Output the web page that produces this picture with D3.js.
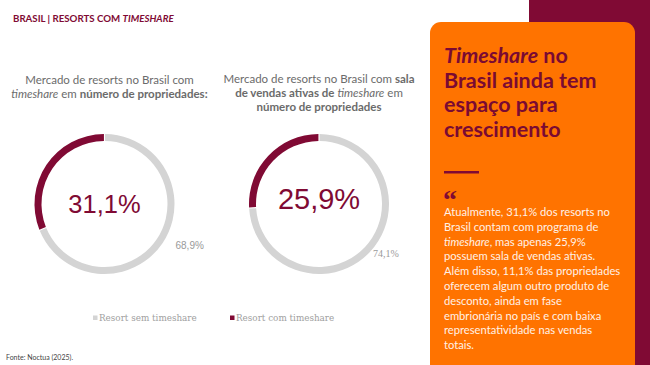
<!DOCTYPE html>
<html>
<head>
<meta charset="utf-8">
<script src="https://cdn.jsdelivr.net/npm/d3@7"></script>
<style>
  body { margin: 0; background: #fff; }
  svg { display: block; font-family: Lato, "Open Sans", sans-serif; }
</style>
</head>
<body>
<svg width="650" height="365"></svg>
<script>
let categories = ["Resort sem timeshare", "Resort com timeshare"]
let chartTitles = [
  [["Mercado de resorts no Brasil com"], ["timeshare|i", " em ", "número de propriedades:|b"]],
  [["Mercado de resorts no Brasil com ", "sala|b"], ["de vendas ativas de|b", " ", "timeshare|i", " em"], ["número de propriedades|b"]]
]
let semValues = [68.9, 74.1]
let comValues = [31.1, 25.9]
let bodyLines = [
  ["Atualmente, 31,1% dos resorts no"],
  ["Brasil contam com programa de"],
  ["timeshare|i", ", mas apenas 25,9%"],
  ["possuem sala de vendas ativas."],
  ["Além disso, 11,1% das propriedades"],
  ["oferecem algum outro produto de"],
  ["desconto, ainda em fase"],
  ["embrionária no país e com baixa"],
  ["representatividade nas vendas"],
  ["totais."]
]

let width = 650
let height = 365
let maroon = "#800a34"
let orange = "#ff7300"
let grey = "#d4d4d4"
let fmt = v => d3.format(".1f")(v).replace(".", ",") + "%"

let svg = d3.select("svg")

// header
let head = svg.append("text").attr("x", 13).attr("y", 22)
  .attr("fill", maroon).attr("font-size", 9.7).attr("font-weight", 700)
head.append("tspan").text("BRASIL | RESORTS COM ")
head.append("tspan").attr("font-style", "italic").text("TIMESHARE")

// rich text helper: "text|i" italic, "text|b" bold
let addSpans = (sel, parts) => {
  parts.forEach(p => {
    let [t, f] = p.split("|")
    let s = sel.append("tspan").text(t)
    if (f === "i") s.attr("font-style", "italic")
    if (f === "b") s.attr("font-weight", 700)
  })
}

let centersX = [104.5, 319]
let cy = 204
let outerR = 70
let innerR = 63

let arc = d3.arc().innerRadius(innerR).outerRadius(outerR).padAngle(0.012)
let color = d3.scaleOrdinal().domain(categories).range([grey, maroon])

centersX.forEach((cx, i) => {
  // title
  let ty = i === 0 ? 84 : 83
  chartTitles[i].forEach((line, j) => {
    let t = svg.append("text").attr("x", cx + (i === 0 ? 5 : 0)).attr("y", ty + j * 14)
      .attr("text-anchor", "middle").attr("fill", "#6b6b6b").attr("font-size", 11.5)
    addSpans(t, line)
  })

  let data = [
    {cat: categories[1], value: comValues[i]},
    {cat: categories[0], value: semValues[i]}
  ]
  // com timeshare goes counter-clockwise from top
  let start = -2 * Math.PI * comValues[i] / 100
  let arcs = d3.pie().sort(null).value(d => d.value)
    .startAngle(start).endAngle(start + 2 * Math.PI)(data)

  let g = svg.append("g").attr("transform", `translate(${cx},${cy})`)
  g.selectAll("path").data(arcs).enter().append("path")
    .attr("d", arc)
    .attr("fill", d => color(d.data.cat))

  g.append("text").attr("text-anchor", "middle").attr("y", i === 0 ? 9 : 5)
    .attr("fill", maroon).attr("font-size", i === 0 ? 25.5 : 29)
    .attr("font-family", "'Liberation Sans', Arial, sans-serif")
    .text(fmt(comValues[i]))

  // outside label for sem timeshare
  let labelPos = i === 0 ? [71, 45] : [54, 53]
  g.append("text").attr("x", labelPos[0]).attr("y", labelPos[1])
    .attr("fill", "#9a9a9a").attr("font-size", 10)
    .attr("font-family", i === 0 ? "'Liberation Sans', Arial, sans-serif" : "'Liberation Serif', serif")
    .text(fmt(semValues[i]))
})

// legend
let legendX = [93, 230]
categories.forEach((c, i) => {
  svg.append("rect").attr("x", legendX[i]).attr("y", 315.5).attr("width", 4.5).attr("height", 4.5)
    .attr("fill", color(c))
  svg.append("text").attr("x", legendX[i] + 6).attr("y", 321)
    .attr("fill", "#a0a0a0")
    .attr("font-family", "'DejaVu Serif', serif").attr("font-size", 8.8)
    .text(c)
})

svg.append("text").attr("x", 6).attr("y", 360).attr("fill", "#444").attr("font-size", 7)
  .text("Fonte: Noctua (2025).")

// right panel
svg.append("rect").attr("x", 529).attr("y", 0).attr("width", 121).attr("height", height).attr("fill", maroon)
svg.append("rect").attr("x", 430).attr("y", 22).attr("width", 205).attr("height", 370)
  .attr("rx", 11).attr("fill", orange)

let titleLines = [["Timeshare|i", " no"], ["Brasil ainda tem"], ["espaço para"], ["crescimento"]]
titleLines.forEach((l, j) => {
  let t = svg.append("text").attr("x", 444).attr("y", 63 + j * 24.5)
    .attr("fill", "#7a0a33").attr("font-size", 21.5).attr("font-weight", 700)
  addSpans(t, l)
})
svg.append("rect").attr("x", 444).attr("y", 171).attr("width", 35).attr("height", 2.5).attr("fill", maroon)
svg.append("text").attr("x", 443).attr("y", 209).attr("fill", maroon).attr("font-size", 28)
  .attr("font-weight", 700).attr("font-family", "'Liberation Serif', serif").text("\u201C")

bodyLines.forEach((l, j) => {
  let t = svg.append("text").attr("x", 444).attr("y", 216 + j * 14.8)
    .attr("fill", "#fff1e6").attr("font-size", 11.2)
  addSpans(t, l)
})
</script>
</body>
</html>
